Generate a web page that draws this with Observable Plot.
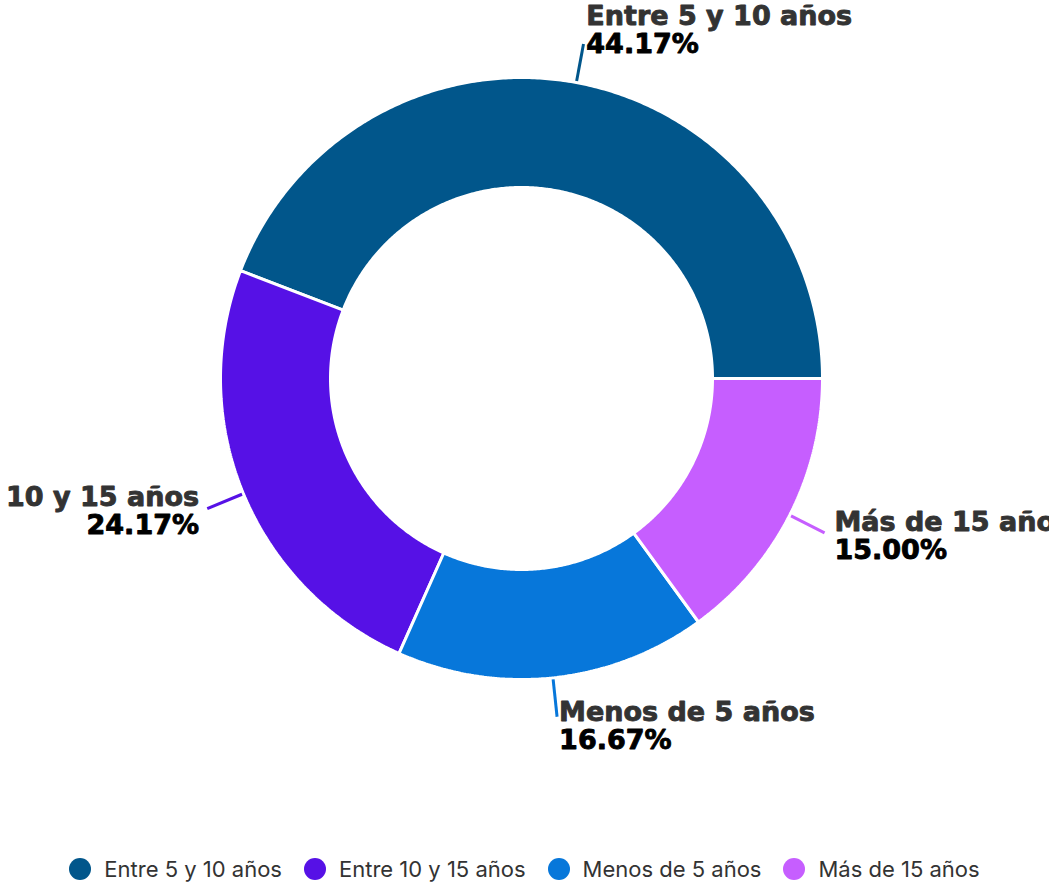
<!DOCTYPE html>
<html>
<head>
<meta charset="utf-8">
<script src="https://cdn.jsdelivr.net/npm/d3@7"></script>
<script src="https://cdn.jsdelivr.net/npm/@observablehq/plot@0.6"></script>
<style>
  html, body { margin: 0; padding: 0; background: #fff; overflow: hidden; }
  #chart svg { display: block; }
  .legend { display: flex; justify-content: center; align-items: center; gap: 22px;
            font-family: Inter, "Noto Sans", sans-serif; font-size: 22px; color: #333; height: 26px; margin-top: 11px; }
  .legend .item { display: flex; align-items: center; gap: 13px; }
  .legend .sw { width: 22px; height: 22px; border-radius: 50%; display: inline-block; }
</style>
</head>
<body>
<div id="chart"></div>
<script>
// ---- Data ----
const categories = ["Entre 5 y 10 años", "Entre 10 y 15 años", "Menos de 5 años", "Más de 15 años"];
const values = [44.17, 24.17, 16.67, 15.00];
const percentLabels = ["44.17%", "24.17%", "16.67%", "15.00%"];
const colors = ["#01568b", "#5611e6", "#0777da", "#c65eff"];

// ---- Layout constants ----
const W = 1049, H = 845;
const cxPx = 521, cyPx = 378, R = 301;       // pixels per unit radius
const inner = 191 / 301;                      // inner radius (units)
const leadStart = 1.005, leadEnd = 1.13;

// ---- Build slice geometry (counter-clockwise from 3 o'clock) ----
const total = d3.sum(values);
let acc = 0;
const slices = categories.map((c, i) => {
  const a0 = acc / total * 2 * Math.PI;
  acc += values[i];
  const a1 = acc / total * 2 * Math.PI;
  return {category: c, value: values[i], pct: percentLabels[i], a0, a1, mid: (a0 + a1) / 2};
});

const polyPts = [];
for (const s of slices) {
  const n = Math.max(8, Math.ceil((s.a1 - s.a0) / (Math.PI / 360)));
  for (let k = 0; k <= n; k++) {
    const a = s.a0 + (s.a1 - s.a0) * k / n;
    polyPts.push({category: s.category, x: Math.cos(a), y: Math.sin(a)});
  }
  for (let k = n; k >= 0; k--) {
    const a = s.a0 + (s.a1 - s.a0) * k / n;
    polyPts.push({category: s.category, x: inner * Math.cos(a), y: inner * Math.sin(a)});
  }
}

const leaders = slices.map(s => ({
  category: s.category,
  x1: leadStart * Math.cos(s.mid), y1: leadStart * Math.sin(s.mid),
  x2: leadEnd * Math.cos(s.mid), y2: leadEnd * Math.sin(s.mid)
}));

const labels = slices.map(s => {
  const c = Math.cos(s.mid), sn = Math.sin(s.mid);
  const dxPx = c * 10 + 1;
  const blockPx = -sn * 11.5 - 2;  // vertical offset of label block center (px, down positive)
  return {
    category: s.category, pct: s.pct,
    side: c >= 0 ? "start" : "end",
    x: leadEnd * c + dxPx / R,
    y: leadEnd * sn - blockPx / R
  };
});

const xDomain = [-cxPx / R, (W - cxPx) / R];
const yDomain = [-(H - cyPx) / R, cyPx / R];
const font = "'DejaVu Sans', sans-serif";

const textMarks = [];
for (const side of ["start", "end"]) {
  const data = labels.filter(d => d.side === side);
  textMarks.push(Plot.text(data, {x: "x", y: "y", text: "category", textAnchor: side, lineAnchor: "middle",
    dy: -14, fontSize: 27, fontWeight: "bold", fill: "#333", stroke: "#333", strokeWidth: 0.9, fontFamily: font}));
  textMarks.push(Plot.text(data, {x: "x", y: "y", text: "pct", textAnchor: side, lineAnchor: "middle",
    dy: 14, fontSize: 27, fontWeight: "bold", fill: "#000", stroke: "#000", strokeWidth: 0.9, fontFamily: font}));
}

const chart = Plot.plot({
  width: W, height: H,
  margin: 0,
  x: {domain: xDomain, axis: null},
  y: {domain: yDomain, axis: null},
  color: {domain: categories, range: colors},
  style: {background: "#fff", overflow: "hidden"},
  marks: [
    Plot.line(polyPts, {x: "x", y: "y", z: "category", fill: "category", stroke: "white",
      strokeWidth: 3, curve: "linear-closed", strokeLinejoin: "miter"}),
    Plot.link(leaders, {x1: "x1", y1: "y1", x2: "x2", y2: "y2", stroke: "category", strokeWidth: 3}),
    ...textMarks
  ]
});
document.getElementById("chart").appendChild(chart);

// ---- Legend ----
const legend = document.createElement("div");
legend.className = "legend";
categories.forEach((c, i) => {
  const item = document.createElement("div");
  item.className = "item";
  const sw = document.createElement("span");
  sw.className = "sw";
  sw.style.background = colors[i];
  const t = document.createElement("span");
  t.textContent = c;
  item.appendChild(sw); item.appendChild(t);
  legend.appendChild(item);
});
document.body.appendChild(legend);
</script>
</body>
</html>
